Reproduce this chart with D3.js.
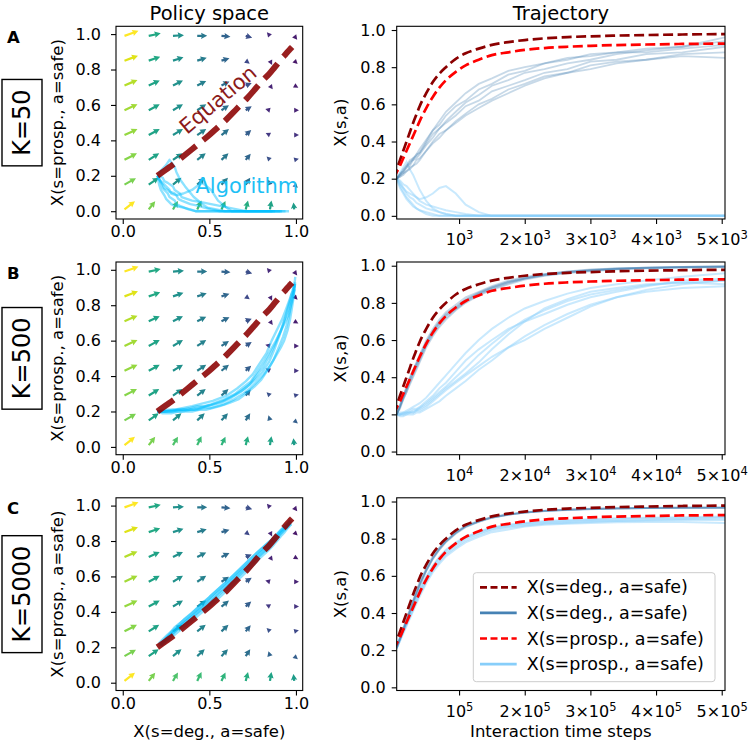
<!DOCTYPE html>
<html><head><meta charset="utf-8">
<script src="https://cdn.jsdelivr.net/npm/d3@7"></script>
<style>body{margin:0;background:#fff} text{font-family:"DejaVu Sans",sans-serif;fill:#000}</style>
</head><body><svg id="c" width="749" height="744"></svg>
<script>
// ---------------- DATA ----------------
const panelLetters = ["A","B","C"];
const Kvals = [50, 500, 5000];
const tickExp = [3, 4, 5];
const tickMantissa = [1, 2, 3, 4, 5];
const policyTicksX = [0, 0.5, 1.0];
const valueTicks = [0, 0.2, 0.4, 0.6, 0.8, 1.0];

// quiver grid (same field in all three panels); rows listed from y=0.01 (bottom) to y=0.99 (top)
const gridX = [0.01, 0.15, 0.29, 0.43, 0.57, 0.71, 0.85, 0.99];
const gridY = [0.01, 0.15, 0.29, 0.43, 0.57, 0.71, 0.85, 0.99];
const quivU = [
  [10.5, 6.5, 5, 4.3, 4, 2.3, 1.5, -0.8],
  [11.5, 10, 8.5, 7.5, 6.5, 4.5, -1.5, 3.5],
  [12.5, 10.5, 9.5, 8.5, 7, 5, -3, 4],
  [13, 11, 10, 9, 7.5, 5.5, -4, 4],
  [13, 11, 10, 9, 7.5, 6, -4, 4],
  [13, 11, 10, 9, 8, 6, 2.5, 3.5],
  [13.5, 11.5, 10.5, 9.5, 8, 4, 2, 3],
  [14, 12, 11, 10, 9, 6.5, -2.5, 3]
];
const quivV = [
  [8.3, 8.3, 8.5, 9, 8.5, 9, 9, 7],
  [6.5, 7, 7, 7, 7, 7, 5, -3],
  [6.5, 6.5, 6.5, 6.5, 6.5, 6, 3, 1],
  [6, 6, 6, 6, 6, 5, 2, 0],
  [6, 6, 6, 6, 5, 4, 1, 0],
  [5.5, 5, 5, 4.5, 4, 2.5, -3.5, -2],
  [5, 4, 3.5, 3, 2.5, -3, -4, -3],
  [5, 2.5, 0.7, 0, -0.8, -2, 3, -4]
];
const quivC = [
  [1.0, 0.80, 0.72, 0.68, 0.65, 0.62, 0.58, 0.55],
  [0.80, 0.58, 0.50, 0.46, 0.42, 0.36, 0.32, 0.30],
  [0.82, 0.58, 0.50, 0.45, 0.40, 0.33, 0.25, 0.22],
  [0.84, 0.58, 0.50, 0.44, 0.38, 0.30, 0.17, 0.15],
  [0.86, 0.58, 0.50, 0.44, 0.37, 0.28, 0.12, 0.10],
  [0.89, 0.58, 0.50, 0.43, 0.35, 0.25, 0.10, 0.08],
  [0.95, 0.60, 0.50, 0.42, 0.33, 0.22, 0.10, 0.06],
  [1.0, 0.60, 0.50, 0.40, 0.32, 0.24, 0.12, 0.08]
];

// deterministic equation (time in units of K)
const eqN = [0,1,2,3,4,5,6,7,8,10,12,14,16,19,22,26,30,35,40,46,53,60,68,77,88,101];
const eqDeg = [0.20,0.25,0.30,0.35,0.40,0.45,0.50,0.545,0.59,0.66,0.72,0.765,0.80,0.845,0.875,0.90,0.92,0.935,0.946,0.955,0.962,0.966,0.97,0.973,0.976,0.978];
const eqProsp = [0.20,0.235,0.27,0.31,0.35,0.39,0.43,0.47,0.51,0.58,0.64,0.69,0.73,0.775,0.81,0.84,0.865,0.88,0.893,0.903,0.91,0.915,0.919,0.922,0.925,0.927];

// algorithm sample runs (time in units of K)
const runN = [1,2,3,4,5,6,7,8,10,12,14,16,19,22,26,30,35,40,46,53,60,68,77,88,101];
const degA = [
  [0.20,0.22,0.23,0.26,0.27,0.30,0.31,0.33,0.38,0.42,0.47,0.50,0.54,0.59,0.62,0.67,0.70,0.73,0.77,0.79,0.83,0.84,0.87,0.88,0.91],
  [0.20,0.22,0.25,0.27,0.30,0.31,0.33,0.36,0.41,0.46,0.49,0.54,0.59,0.62,0.68,0.71,0.76,0.78,0.82,0.84,0.87,0.88,0.90,0.91,0.94],
  [0.20,0.21,0.23,0.24,0.26,0.27,0.30,0.31,0.35,0.40,0.44,0.46,0.51,0.55,0.60,0.63,0.68,0.71,0.75,0.77,0.81,0.83,0.84,0.87,0.88],
  [0.20,0.22,0.24,0.27,0.28,0.31,0.32,0.34,0.39,0.44,0.47,0.51,0.56,0.61,0.65,0.70,0.73,0.77,0.79,0.82,0.84,0.87,0.89,0.91,0.96],
  [0.20,0.23,0.24,0.26,0.29,0.30,0.33,0.34,0.40,0.46,0.51,0.56,0.61,0.66,0.71,0.74,0.78,0.80,0.82,0.85,0.86,0.88,0.88,0.90,0.92],
  [0.20,0.21,0.22,0.24,0.25,0.27,0.28,0.30,0.35,0.39,0.42,0.46,0.50,0.54,0.58,0.62,0.66,0.70,0.74,0.77,0.79,0.82,0.84,0.86,0.85]
];
const prospA = [
  [0.20,0.16,0.13,0.10,0.08,0.06,0.04,0.03,0.01,0,0,0,0,0,0,0,0,0,0,0,0,0,0,0,0],
  [0.20,0.23,0.26,0.29,0.25,0.22,0.18,0.14,0.08,0.04,0.02,0.01,0,0,0,0,0,0,0,0,0,0,0,0,0],
  [0.20,0.18,0.15,0.13,0.12,0.11,0.10,0.09,0.10,0.12,0.15,0.16,0.12,0.06,0.02,0,0,0,0,0,0,0,0,0,0],
  [0.20,0.17,0.15,0.12,0.10,0.09,0.07,0.06,0.04,0.03,0.02,0.01,0,0,0,0,0,0,0,0,0,0,0,0,0],
  [0.20,0.19,0.17,0.16,0.14,0.12,0.10,0.08,0.06,0.05,0.04,0.03,0.02,0.01,0,0,0,0,0,0,0,0,0,0,0],
  [0.20,0.15,0.12,0.09,0.07,0.05,0.04,0.03,0.02,0.01,0,0,0,0,0,0,0,0,0,0,0,0,0,0,0]
];
const degB = [
  [0.20,0.24,0.29,0.33,0.38,0.42,0.46,0.50,0.58,0.64,0.69,0.73,0.77,0.81,0.85,0.88,0.91,0.93,0.95,0.965,0.975,0.983,0.988,0.992,0.995],
  [0.20,0.25,0.30,0.35,0.40,0.44,0.48,0.52,0.60,0.66,0.71,0.75,0.79,0.83,0.86,0.89,0.92,0.94,0.955,0.97,0.98,0.985,0.99,0.994,0.996],
  [0.20,0.23,0.28,0.32,0.36,0.40,0.44,0.48,0.56,0.62,0.67,0.71,0.76,0.80,0.84,0.87,0.90,0.925,0.945,0.96,0.97,0.98,0.986,0.99,0.993],
  [0.20,0.24,0.29,0.34,0.39,0.43,0.47,0.51,0.59,0.65,0.70,0.74,0.78,0.82,0.855,0.885,0.915,0.935,0.955,0.968,0.977,0.985,0.99,0.993,0.997],
  [0.20,0.24,0.28,0.32,0.37,0.41,0.45,0.49,0.57,0.63,0.68,0.72,0.765,0.805,0.845,0.875,0.905,0.93,0.948,0.963,0.973,0.982,0.987,0.991,0.994],
  [0.20,0.25,0.30,0.34,0.39,0.43,0.47,0.51,0.585,0.645,0.695,0.735,0.775,0.815,0.852,0.882,0.912,0.932,0.952,0.966,0.976,0.984,0.989,0.993,0.995]
];
const prospB = [
  [0.20,0.20,0.205,0.21,0.21,0.22,0.225,0.235,0.26,0.29,0.32,0.35,0.40,0.45,0.52,0.58,0.65,0.71,0.76,0.81,0.845,0.87,0.895,0.91,0.92],
  [0.20,0.21,0.21,0.22,0.23,0.24,0.25,0.26,0.29,0.33,0.37,0.41,0.47,0.53,0.60,0.66,0.72,0.77,0.81,0.85,0.88,0.90,0.92,0.94,0.96],
  [0.20,0.19,0.19,0.20,0.20,0.20,0.21,0.21,0.23,0.25,0.27,0.30,0.34,0.38,0.44,0.49,0.56,0.62,0.68,0.74,0.79,0.83,0.86,0.88,0.89],
  [0.20,0.20,0.21,0.21,0.22,0.23,0.23,0.24,0.27,0.30,0.34,0.37,0.43,0.49,0.55,0.60,0.66,0.70,0.74,0.79,0.83,0.86,0.89,0.92,0.93],
  [0.20,0.20,0.20,0.21,0.21,0.21,0.22,0.23,0.25,0.28,0.31,0.34,0.38,0.42,0.48,0.55,0.63,0.70,0.77,0.82,0.86,0.88,0.90,0.91,0.90],
  [0.20,0.20,0.20,0.20,0.21,0.21,0.22,0.22,0.24,0.27,0.30,0.33,0.37,0.41,0.46,0.51,0.56,0.60,0.66,0.72,0.78,0.83,0.87,0.90,0.92]
];
const degC = [
  [0.22,0.26,0.31,0.36,0.41,0.46,0.51,0.555,0.63,0.695,0.745,0.785,0.83,0.866,0.893,0.914,0.93,0.94,0.95,0.955,0.96,0.963,0.965,0.966,0.967],
  [0.22,0.26,0.30,0.35,0.40,0.45,0.50,0.545,0.625,0.69,0.74,0.78,0.826,0.862,0.89,0.912,0.928,0.94,0.948,0.954,0.958,0.962,0.964,0.965,0.966],
  [0.22,0.27,0.32,0.37,0.42,0.47,0.52,0.565,0.64,0.705,0.752,0.79,0.835,0.87,0.896,0.917,0.932,0.943,0.951,0.957,0.961,0.964,0.966,0.968,0.968],
  [0.21,0.26,0.31,0.36,0.41,0.46,0.505,0.55,0.628,0.692,0.742,0.784,0.83,0.865,0.892,0.914,0.93,0.941,0.95,0.956,0.96,0.963,0.965,0.967,0.966],
  [0.21,0.26,0.31,0.36,0.41,0.465,0.51,0.555,0.633,0.698,0.748,0.787,0.833,0.867,0.893,0.914,0.929,0.94,0.949,0.955,0.959,0.962,0.964,0.966,0.967]
];
const prospC = [
  [0.21,0.25,0.30,0.34,0.38,0.42,0.46,0.50,0.57,0.63,0.675,0.715,0.755,0.79,0.82,0.845,0.86,0.87,0.88,0.885,0.89,0.895,0.898,0.90,0.90],
  [0.22,0.26,0.31,0.35,0.39,0.44,0.48,0.52,0.59,0.65,0.70,0.735,0.775,0.805,0.835,0.858,0.872,0.882,0.89,0.895,0.90,0.905,0.91,0.91,0.915],
  [0.21,0.25,0.29,0.33,0.37,0.41,0.45,0.49,0.56,0.62,0.665,0.705,0.745,0.78,0.81,0.835,0.85,0.865,0.875,0.88,0.885,0.888,0.89,0.89,0.885],
  [0.22,0.27,0.31,0.36,0.40,0.44,0.485,0.525,0.595,0.655,0.70,0.74,0.78,0.81,0.838,0.86,0.875,0.885,0.895,0.90,0.905,0.91,0.912,0.915,0.92],
  [0.21,0.26,0.30,0.34,0.38,0.43,0.47,0.51,0.58,0.64,0.685,0.725,0.765,0.80,0.828,0.852,0.866,0.876,0.885,0.89,0.895,0.897,0.90,0.905,0.91]
];
const degRuns = [degA, degB, degC];
const prospRuns = [prospA, prospB, prospC];
const legendLabels = ["X(s=deg., a=safe)", "X(s=deg., a=safe)", "X(s=prosp., a=safe)", "X(s=prosp., a=safe)"];

// ---------------- LAYOUT / STYLE ----------------
const svg = d3.select("#c");
const rowTop = [26.3, 262, 497.8], rowH = 192.7;
const LX = [116, 302.7], RX = [396.7, 725];
const leftXlim = [-0.039, 1.039], leftYlim = [-0.044, 1.044], rightYlim = [-0.017, 1.02];
const nLim = [1, 101];
const C_DEG_EQ = "#8b0000", C_PROSP_EQ = "#ff0000", C_DEG_ALG = "#4682b4", C_PROSP_ALG = "#87cefa", C_ALG = "#00bfff";
const tickFont = 16, labelFont = 16.5;

function arrowPts(L, w, hw, hl, hal){
  if (L >= hl) return [[0,-w/2],[L-hal,-w/2],[L-hl,-hw/2],[L,0],[L-hl,hw/2],[L-hal,w/2],[0,w/2]];
  const s = Math.max(L, 4.8) / hl;
  return [[0,-hw/2],[hl,0],[0,hw/2]].map(p=>[p[0]*s,p[1]*s]);
}

function styleAxis(g){
  g.attr("font-size", tickFont).attr("font-family", "DejaVu Sans");
  g.select(".domain").remove();
  g.selectAll(".tick line").attr("stroke","#000").attr("stroke-width",1.1);
  g.selectAll(".tick text").attr("font-size",tickFont).style("fill","#000");
}

for (let r = 0; r < 3; r++){
  const top = rowTop[r], bot = top + rowH, K = Kvals[r];
  // ---------- left: policy space ----------
  const xL = d3.scaleLinear().domain(leftXlim).range(LX);
  const yL = d3.scaleLinear().domain(leftYlim).range([bot, top]);
  const clipL = "clipL" + r;
  svg.append("clipPath").attr("id", clipL).append("rect").attr("x",LX[0]).attr("y",top).attr("width",LX[1]-LX[0]).attr("height",rowH);
  const gL = svg.append("g");
  const plotL = gL.append("g").attr("clip-path",`url(#${clipL})`);
  const qg = plotL.append("g");
  gridY.forEach((gy,i)=>{
    gridX.forEach((gx,j)=>{
      const dx = quivU[i][j], dy = -quivV[i][j];
      const L = Math.hypot(dx,dy), ang = Math.atan2(dy,dx)*180/Math.PI;
      const pts = arrowPts(L, 2.2, 6.4, 6.2, 5.6);
      qg.append("polygon").attr("points", pts.map(p=>p.join(",")).join(" "))
        .attr("transform",`translate(${xL(gx)},${yL(gy)}) rotate(${ang})`)
        .attr("fill", d3.interpolateViridis(quivC[i][j]));
    });
  });
  const lineP = d3.line().x(d=>xL(d[0])).y(d=>yL(d[1]));
  degRuns[r].forEach((run,k)=>{
    const pts = run.map((v,t)=>[v, prospRuns[r][k][t]]);
    plotL.append("path").attr("d", lineP(pts)).attr("fill","none").attr("stroke",C_ALG)
      .attr("stroke-width",r===2?3.2:2.4).attr("stroke-opacity",0.45).attr("stroke-linejoin","round");
  });
  const eqPts = eqDeg.map((v,t)=>[v, eqProsp[t]]);
  plotL.append("path").attr("d", d3.line().x(d=>xL(d[0])).y(d=>yL(d[1])).curve(d3.curveCatmullRom)(eqPts))
    .attr("fill","none").attr("stroke",C_DEG_EQ).attr("stroke-opacity",0.88).attr("stroke-width",6).attr("stroke-dasharray","20,9");
  if (r === 0){
    plotL.append("text").attr("x",xL(0.55)).attr("y",yL(0.63)).attr("text-anchor","middle").attr("dominant-baseline","central")
      .attr("transform",`rotate(-40,${xL(0.55)},${yL(0.63)})`).attr("font-size",21).style("fill","#8b1a1a").text("Equation");
    plotL.append("text").attr("x",xL(0.42)).attr("y",yL(0.10)).attr("font-size",21).style("fill","#1ec0f5").text("Algorithm");
  }
  gL.append("rect").attr("x",LX[0]).attr("y",top).attr("width",LX[1]-LX[0]).attr("height",rowH).attr("fill","none").attr("stroke","#000").attr("stroke-width",1.1);
  const axLx = gL.append("g").attr("transform",`translate(0,${bot})`).call(d3.axisBottom(xL).tickValues(policyTicksX).tickSize(5).tickPadding(2).tickFormat(d3.format(".1f")));
  styleAxis(axLx);
  const axLy = gL.append("g").attr("transform",`translate(${LX[0]},0)`).call(d3.axisLeft(yL).tickValues(valueTicks).tickSize(5).tickPadding(10).tickFormat(d3.format(".1f")));
  styleAxis(axLy);
  gL.append("text").attr("transform",`translate(63,${(top+bot)/2}) rotate(-90)`).attr("text-anchor","middle").attr("font-size",labelFont).text("X(s=prosp., a=safe)");
  if (r === 2) gL.append("text").attr("x",(LX[0]+LX[1])/2).attr("y",737).attr("text-anchor","middle").attr("font-size",labelFont).text("X(s=deg., a=safe)");
  if (r === 0) gL.append("text").attr("x",(LX[0]+LX[1])/2).attr("y",19.5).attr("text-anchor","middle").attr("font-size",19.5).text("Policy space");

  // panel letter and K box
  svg.append("text").attr("x",7).attr("y",top+16.5).attr("font-size",16.5).attr("font-weight","bold").text(panelLetters[r]);
  const kg = svg.append("g");
  const kbox = kg.append("rect");
  const kt = kg.append("text").attr("transform",`translate(22,${(top+bot)/2}) rotate(-90)`).attr("text-anchor","middle").attr("dominant-baseline","central").attr("font-size",24).text("K=" + K);
  const tw = kt.node().getComputedTextLength();
  kbox.attr("x",2).attr("y",(top+bot)/2 - tw/2 - 10).attr("width",40).attr("height",tw+20).attr("fill","#fff").attr("stroke","#000").attr("stroke-width",1.4);

  // ---------- right: trajectory ----------
  const xR = d3.scaleLinear().domain([nLim[0]*K, nLim[1]*K]).range(RX);
  const yR = d3.scaleLinear().domain(rightYlim).range([bot, top]);
  const clipR = "clipR" + r;
  svg.append("clipPath").attr("id", clipR).append("rect").attr("x",RX[0]).attr("y",top).attr("width",RX[1]-RX[0]).attr("height",rowH);
  const gR = svg.append("g");
  const plotR = gR.append("g").attr("clip-path",`url(#${clipR})`);
  const lineT = d3.line().x(d=>xR(d[0]*K)).y(d=>yR(d[1]));
  prospRuns[r].forEach(run=>{
    plotR.append("path").attr("d", lineT(run.map((v,t)=>[runN[t],v]))).attr("fill","none").attr("stroke",C_PROSP_ALG).attr("stroke-width",2).attr("stroke-opacity",0.45);
  });
  degRuns[r].forEach(run=>{
    plotR.append("path").attr("d", lineT(run.map((v,t)=>[runN[t],v]))).attr("fill","none").attr("stroke",C_DEG_ALG).attr("stroke-width",1.8).attr("stroke-opacity",0.3);
  });
  const lineE = d3.line().x(d=>xR(d[0]*K)).y(d=>yR(d[1])).curve(d3.curveMonotoneX);
  plotR.append("path").attr("d", lineE(eqN.map((n,t)=>[n,eqDeg[t]]))).attr("fill","none").attr("stroke",C_DEG_EQ).attr("stroke-width",2.7).attr("stroke-dasharray","10,4.5");
  plotR.append("path").attr("d", lineE(eqN.map((n,t)=>[n,eqProsp[t]]))).attr("fill","none").attr("stroke",C_PROSP_EQ).attr("stroke-width",2.7).attr("stroke-dasharray","10,4.5");
  gR.append("rect").attr("x",RX[0]).attr("y",top).attr("width",RX[1]-RX[0]).attr("height",rowH).attr("fill","none").attr("stroke","#000").attr("stroke-width",1.1);
  const e = tickExp[r];
  const axRx = gR.append("g").attr("transform",`translate(0,${bot})`).call(d3.axisBottom(xR).tickValues(tickMantissa.map(m=>m*Math.pow(10,e))).tickSize(5).tickPadding(5).tickFormat(()=>""));
  styleAxis(axRx);
  axRx.selectAll(".tick text").each(function(d,i){
    const m = tickMantissa[i];
    const t = d3.select(this).attr("dy",null).attr("y",26);
    t.append("tspan").text(m === 1 ? "10" : m + "×10");
    t.append("tspan").attr("dy","-0.5em").attr("font-size","0.72em").text(e);
  });
  const axRy = gR.append("g").attr("transform",`translate(${RX[0]},0)`).call(d3.axisLeft(yR).tickValues(valueTicks).tickSize(5).tickPadding(6).tickFormat(d3.format(".1f")));
  styleAxis(axRy);
  gR.append("text").attr("transform",`translate(346,${(top+bot)/2}) rotate(-90)`).attr("text-anchor","middle").attr("font-size",labelFont).text("X(s,a)");
  if (r === 0) gR.append("text").attr("x",(RX[0]+RX[1])/2).attr("y",19.5).attr("text-anchor","middle").attr("font-size",19.5).text("Trajectory");
  if (r === 2){
    gR.append("text").attr("x",(RX[0]+RX[1])/2).attr("y",737).attr("text-anchor","middle").attr("font-size",labelFont).text("Interaction time steps");
    const lg = gR.append("g");
    lg.append("rect").attr("x",473.3).attr("y",572.7).attr("width",241.7).attr("height",109).attr("rx",3)
      .attr("fill","#fff").attr("fill-opacity",0.8).attr("stroke","#ccc").attr("stroke-width",1);
    const lstyles = [[C_DEG_EQ,"7,3.5"],[C_DEG_ALG,null],[C_PROSP_EQ,"7,3.5"],[C_PROSP_ALG,null]];
    legendLabels.forEach((lab,i)=>{
      const yy = 587.3 + i*25.6;
      lg.append("line").attr("x1",480).attr("x2",516.7).attr("y1",yy).attr("y2",yy).attr("stroke",lstyles[i][0]).attr("stroke-width",2.7).attr("stroke-dasharray",lstyles[i][1]);
      lg.append("text").attr("x",526.7).attr("y",yy).attr("dominant-baseline","central").attr("font-size",17.5).text(lab);
    });
  }
}
</script></body></html>
